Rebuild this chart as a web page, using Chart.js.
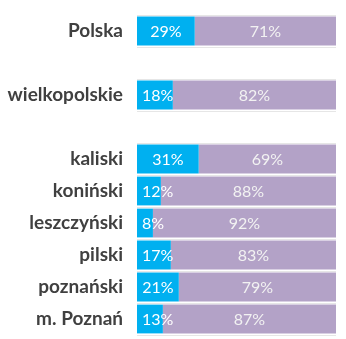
<!DOCTYPE html>
<html>
<head>
<meta charset="utf-8">
<script src="https://cdn.jsdelivr.net/npm/chart.js@4"></script>
<style>
    html, body { margin: 0; padding: 0; background: #fff; }
    #wrap { width: 346px; height: 339px; position: relative; }
</style>
</head>
<body>
<div id="wrap"><canvas id="shareChart"></canvas></div>
<script>
var categories = ['Polska', '', 'wielkopolskie', '', 'kaliski', 'koniński', 'leszczyński', 'pilski', 'poznański', 'm. Poznań'];
var shareBlue = [29, null, 18, null, 31, 12, 8, 17, 21, 13];
var sharePurple = [71, null, 82, null, 69, 88, 92, 83, 79, 87];

// labels drawn in the middle of each segment, small ones pushed off the left edge
var segmentLabels = {
    id: 'segmentLabels',
    afterDatasetsDraw: function (chart) {
        var ctx = chart.ctx;
        ctx.save();
        ctx.font = '16px Lato';
        ctx.textBaseline = 'middle';
        ctx.textAlign = 'center';
        chart.data.datasets.forEach(function (ds, di) {
            var meta = chart.getDatasetMeta(di);
            meta.data.forEach(function (bar, i) {
                var v = ds.data[i];
                if (v == null) return;
                var txt = v + '%';
                var w = ctx.measureText(txt).width;
                var left = Math.min(bar.base, bar.x);
                var cx = (bar.base + bar.x) / 2;
                if (cx - w / 2 < left + 5) cx = left + 5 + w / 2;
                ctx.fillStyle = di === 0 ? '#ffffff' : '#f2f2f2';
                ctx.fillText(txt, cx, bar.y + 1);
            });
        });
        ctx.restore();
    }
};

new Chart(document.getElementById('shareChart'), {
    type: 'bar',
    data: {
        labels: categories,
        datasets: [{
            data: shareBlue,
            backgroundColor: '#00b0f0',
            barPercentage: 0.9,
            categoryPercentage: 1
        }, {
            data: sharePurple,
            backgroundColor: '#b3a2c7',
            barPercentage: 0.9,
            categoryPercentage: 1
        }]
    },
    options: {
        indexAxis: 'y',
        responsive: true,
        maintainAspectRatio: false,
        animation: false,
        layout: { padding: { top: 15, bottom: 4, right: 10, left: 0 } },
        plugins: { legend: { display: false }, tooltip: { enabled: false } },
        scales: {
            x: {
                stacked: true,
                min: 0,
                max: 100,
                display: false
            },
            y: {
                stacked: true,
                border: { display: false },
                grid: { offset: true, color: '#e6e6e6', drawTicks: false },
                ticks: {
                    padding: 14,
                    color: '#404040',
                    font: { family: 'Lato', size: 19, weight: 'bold' }
                },
                afterFit: function (scale) {
                    scale.width = 137;
                    scale.paddingTop = 0;
                    scale.paddingBottom = 0;
                }
            }
        }
    },
    plugins: [segmentLabels]
});
</script>
</body>
</html>
